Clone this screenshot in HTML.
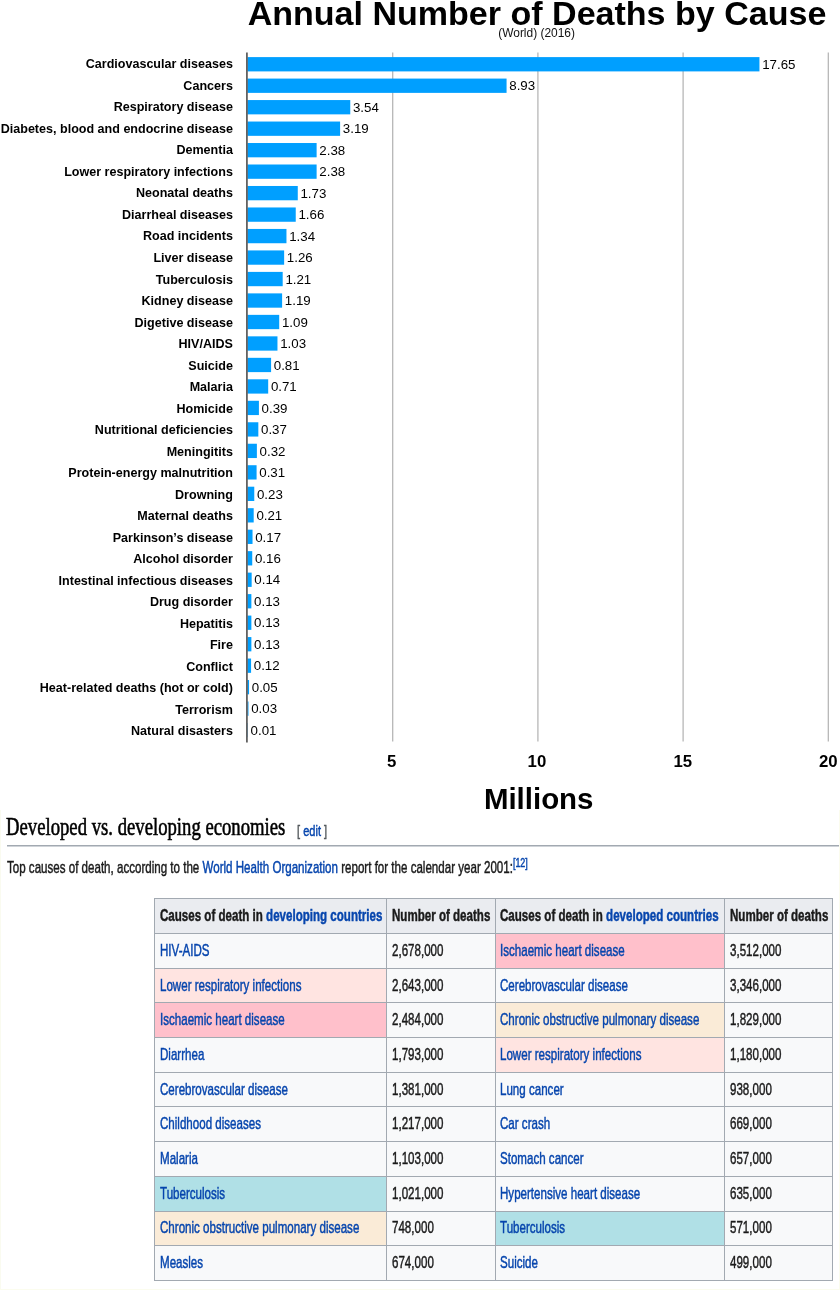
<!DOCTYPE html>
<html lang="en"><head><meta charset="utf-8"><title>Annual Number of Deaths by Cause</title>
<style>
html,body{margin:0;padding:0;background:#fff;}
body{width:840px;height:1290px;position:relative;overflow:hidden;font-family:"Liberation Sans",sans-serif;color:#000;}
.abs{position:absolute;white-space:nowrap;}
.title{left:237px;width:600px;text-align:center;top:-7px;font-size:34.04px;font-weight:bold;line-height:40px;letter-spacing:0;}
.sub{left:436.6px;width:200px;text-align:center;top:24.6px;font-size:11.95px;line-height:16px;color:#111;}
.lab{left:0;width:232.9px;text-align:right;font-size:12.56px;font-weight:bold;line-height:20px;height:20px;}
.val{font-size:13.3px;line-height:20px;height:20px;}
.chart{position:absolute;left:0;top:0;}
.tick{width:60px;text-align:center;font-size:16.8px;font-weight:bold;line-height:20px;top:751.9px;}
.mil{left:438.7px;width:200px;text-align:center;font-size:29.45px;font-weight:bold;line-height:36px;top:780.8px;}
.sq{display:inline-block;-webkit-text-stroke:0.45px currentColor;transform:scaleX(0.728);transform-origin:0 50%;white-space:nowrap;}
.h2{left:5.9px;top:811px;font-family:"Liberation Serif",serif;font-size:25.7px;line-height:32px;color:#000;}
.h2 .sq{-webkit-text-stroke:0.6px #000;}
.edit{left:296.6px;top:818.8px;font-size:15.2px;line-height:24px;color:#54595d;}
a{color:#0645ad;text-decoration:none;}
.rule{position:absolute;left:7px;right:0;top:845px;height:1px;background:#a2a9b1;box-shadow:0 1px 0 #cfd3d8;}
.p{left:7px;top:856.4px;font-size:15.9px;line-height:24px;color:#1a1a1a;}
.p sup{font-size:12.3px;line-height:1;vertical-align:baseline;position:relative;top:-6px;}
table{position:absolute;left:154px;top:898px;border-collapse:collapse;table-layout:fixed;width:678.9px;font-size:15.9px;color:#1a1a1a;background:#f8f9fa;}
td,th{border:1px solid #a2a9b1;padding:0 0 0 4.5px;height:33.7px;text-align:left;vertical-align:middle;overflow:visible;white-space:nowrap;line-height:20px;box-sizing:border-box;}
th{background:#eaecf0;height:35px;font-weight:bold;}
tr{height:34.7px;}
tr.h{height:35px;}
.pk{background:#ffc0cb;} .mr{background:#ffe4e1;} .aw{background:#faebd7;} .pb{background:#b0e0e6;}
.edgeR{position:absolute;right:0;top:810px;width:1px;bottom:0;background:#fbfcee;}
.edgeL{position:absolute;left:0;top:810px;width:1px;bottom:0;background:#fafbf0;}
.edgeB{position:absolute;left:0;right:0;bottom:0;height:1px;background:#fbfcee;}
</style></head>
<body>
<div class="abs title">Annual Number of Deaths by Cause</div>
<div class="abs sub">(World) (2016)</div>
<svg class="chart" width="840" height="800" viewBox="0 0 840 800">
<rect x="392.08" y="52.5" width="1.25" height="689" fill="#b4b4b4"/>
<rect x="537.28" y="52.5" width="1.25" height="689" fill="#b4b4b4"/>
<rect x="682.48" y="52.5" width="1.25" height="689" fill="#b4b4b4"/>
<rect x="827.68" y="52.5" width="1.25" height="689" fill="#b4b4b4"/>
<rect x="247.60" y="57.10" width="511.85" height="14.30" fill="#009fff"/>
<rect x="247.60" y="78.58" width="258.97" height="14.30" fill="#009fff"/>
<rect x="247.60" y="100.06" width="102.66" height="14.30" fill="#009fff"/>
<rect x="247.60" y="121.54" width="92.51" height="14.30" fill="#009fff"/>
<rect x="247.60" y="143.02" width="69.02" height="14.30" fill="#009fff"/>
<rect x="247.60" y="164.50" width="69.02" height="14.30" fill="#009fff"/>
<rect x="247.60" y="185.98" width="50.17" height="14.30" fill="#009fff"/>
<rect x="247.60" y="207.46" width="48.14" height="14.30" fill="#009fff"/>
<rect x="247.60" y="228.94" width="38.86" height="14.30" fill="#009fff"/>
<rect x="247.60" y="250.42" width="36.54" height="14.30" fill="#009fff"/>
<rect x="247.60" y="271.90" width="35.09" height="14.30" fill="#009fff"/>
<rect x="247.60" y="293.38" width="34.51" height="14.30" fill="#009fff"/>
<rect x="247.60" y="314.86" width="31.61" height="14.30" fill="#009fff"/>
<rect x="247.60" y="336.34" width="29.87" height="14.30" fill="#009fff"/>
<rect x="247.60" y="357.82" width="23.49" height="14.30" fill="#009fff"/>
<rect x="247.60" y="379.30" width="20.59" height="14.30" fill="#009fff"/>
<rect x="247.60" y="400.78" width="11.31" height="14.30" fill="#009fff"/>
<rect x="247.60" y="422.26" width="10.73" height="14.30" fill="#009fff"/>
<rect x="247.60" y="443.74" width="9.28" height="14.30" fill="#009fff"/>
<rect x="247.60" y="465.22" width="8.99" height="14.30" fill="#009fff"/>
<rect x="247.60" y="486.70" width="6.67" height="14.30" fill="#009fff"/>
<rect x="247.60" y="508.18" width="6.09" height="14.30" fill="#009fff"/>
<rect x="247.60" y="529.66" width="4.93" height="14.30" fill="#009fff"/>
<rect x="247.60" y="551.14" width="4.64" height="14.30" fill="#009fff"/>
<rect x="247.60" y="572.62" width="4.06" height="14.30" fill="#009fff"/>
<rect x="247.60" y="594.10" width="3.77" height="14.30" fill="#009fff"/>
<rect x="247.60" y="615.58" width="3.77" height="14.30" fill="#009fff"/>
<rect x="247.60" y="637.06" width="3.77" height="14.30" fill="#009fff"/>
<rect x="247.60" y="658.54" width="3.48" height="14.30" fill="#009fff"/>
<rect x="247.60" y="680.02" width="1.45" height="14.30" fill="#009fff"/>
<rect x="247.60" y="701.50" width="0.87" height="14.30" fill="#009fff"/>
<rect x="247.60" y="722.98" width="0.29" height="14.30" fill="#009fff"/>
<rect x="246.2" y="52.5" width="1.45" height="690" fill="#3c3c3c"/>
</svg>
<div class="abs lab" style="top:54px">Cardiovascular diseases</div><div class="abs val" style="top:54.95px;left:762.15px">17.65</div>
<div class="abs lab" style="top:76px">Cancers</div><div class="abs val" style="top:76.43px;left:509.27px">8.93</div>
<div class="abs lab" style="top:97px">Respiratory disease</div><div class="abs val" style="top:97.91px;left:352.96px">3.54</div>
<div class="abs lab" style="top:119px">Diabetes, blood and endocrine disease</div><div class="abs val" style="top:119.39px;left:342.81px">3.19</div>
<div class="abs lab" style="top:140px">Dementia</div><div class="abs val" style="top:140.87px;left:319.32px">2.38</div>
<div class="abs lab" style="top:162px">Lower respiratory infections</div><div class="abs val" style="top:162.35px;left:319.32px">2.38</div>
<div class="abs lab" style="top:183px">Neonatal deaths</div><div class="abs val" style="top:183.83px;left:300.47px">1.73</div>
<div class="abs lab" style="top:205px">Diarrheal diseases</div><div class="abs val" style="top:205.31px;left:298.44px">1.66</div>
<div class="abs lab" style="top:226px">Road incidents</div><div class="abs val" style="top:226.79px;left:289.16px">1.34</div>
<div class="abs lab" style="top:248px">Liver disease</div><div class="abs val" style="top:248.27px;left:286.84px">1.26</div>
<div class="abs lab" style="top:270px">Tuberculosis</div><div class="abs val" style="top:269.75px;left:285.39px">1.21</div>
<div class="abs lab" style="top:291px">Kidney disease</div><div class="abs val" style="top:291.23px;left:284.81px">1.19</div>
<div class="abs lab" style="top:313px">Digetive disease</div><div class="abs val" style="top:312.71px;left:281.91px">1.09</div>
<div class="abs lab" style="top:334px">HIV/AIDS</div><div class="abs val" style="top:334.19px;left:280.17px">1.03</div>
<div class="abs lab" style="top:356px">Suicide</div><div class="abs val" style="top:355.67px;left:273.79px">0.81</div>
<div class="abs lab" style="top:377px">Malaria</div><div class="abs val" style="top:377.15px;left:270.89px">0.71</div>
<div class="abs lab" style="top:399px">Homicide</div><div class="abs val" style="top:398.63px;left:261.61px">0.39</div>
<div class="abs lab" style="top:420px">Nutritional deficiencies</div><div class="abs val" style="top:420.11px;left:261.03px">0.37</div>
<div class="abs lab" style="top:442px">Meningitits</div><div class="abs val" style="top:441.59px;left:259.58px">0.32</div>
<div class="abs lab" style="top:463px">Protein-energy malnutrition</div><div class="abs val" style="top:463.07px;left:259.29px">0.31</div>
<div class="abs lab" style="top:485px">Drowning</div><div class="abs val" style="top:484.55px;left:256.97px">0.23</div>
<div class="abs lab" style="top:506px">Maternal deaths</div><div class="abs val" style="top:506.03px;left:256.39px">0.21</div>
<div class="abs lab" style="top:528px">Parkinson’s disease</div><div class="abs val" style="top:527.51px;left:255.23px">0.17</div>
<div class="abs lab" style="top:549px">Alcohol disorder</div><div class="abs val" style="top:548.99px;left:254.94px">0.16</div>
<div class="abs lab" style="top:571px">Intestinal infectious diseases</div><div class="abs val" style="top:570.47px;left:254.36px">0.14</div>
<div class="abs lab" style="top:592px">Drug disorder</div><div class="abs val" style="top:591.95px;left:254.07px">0.13</div>
<div class="abs lab" style="top:614px">Hepatitis</div><div class="abs val" style="top:613.43px;left:254.07px">0.13</div>
<div class="abs lab" style="top:635px">Fire</div><div class="abs val" style="top:634.91px;left:254.07px">0.13</div>
<div class="abs lab" style="top:657px">Conflict</div><div class="abs val" style="top:656.39px;left:253.78px">0.12</div>
<div class="abs lab" style="top:678px">Heat-related deaths (hot or cold)</div><div class="abs val" style="top:677.87px;left:251.75px">0.05</div>
<div class="abs lab" style="top:700px">Terrorism</div><div class="abs val" style="top:699.35px;left:251.17px">0.03</div>
<div class="abs lab" style="top:721px">Natural disasters</div><div class="abs val" style="top:720.83px;left:250.59px">0.01</div>
<div class="abs tick" style="left:361.65px">5</div><div class="abs tick" style="left:506.90px">10</div><div class="abs tick" style="left:652.85px">15</div><div class="abs tick" style="left:798.30px">20</div>
<div class="abs mil">Millions</div>
<div class="abs h2"><span class="sq">Developed vs. developing economies</span></div>
<div class="abs edit"><span class="sq">[ <a>edit</a> ]</span></div>
<div class="rule"></div>
<div class="abs p"><span class="sq">Top causes of death, according to the <a>World Health Organization</a> report for the calendar year 2001:<sup><a>[12]</a></sup></span></div>
<table><colgroup><col style="width:232.1px"><col style="width:108.8px"><col style="width:229.2px"><col style="width:107.8px"></colgroup>
<tr class="h"><th><span class="sq">Causes of death in <a>developing countries</a></span></th><th><span class="sq">Number of deaths</span></th><th><span class="sq">Causes of death in <a>developed countries</a></span></th><th><span class="sq">Number of deaths</span></th></tr>
<tr><td><span class="sq"><a>HIV-AIDS</a></span></td><td><span class="sq">2,678,000</span></td><td class="pk"><span class="sq"><a>Ischaemic heart disease</a></span></td><td><span class="sq">3,512,000</span></td></tr>
<tr><td class="mr"><span class="sq"><a>Lower respiratory infections</a></span></td><td><span class="sq">2,643,000</span></td><td><span class="sq"><a>Cerebrovascular disease</a></span></td><td><span class="sq">3,346,000</span></td></tr>
<tr><td class="pk"><span class="sq"><a>Ischaemic heart disease</a></span></td><td><span class="sq">2,484,000</span></td><td class="aw"><span class="sq"><a>Chronic obstructive pulmonary disease</a></span></td><td><span class="sq">1,829,000</span></td></tr>
<tr><td><span class="sq"><a>Diarrhea</a></span></td><td><span class="sq">1,793,000</span></td><td class="mr"><span class="sq"><a>Lower respiratory infections</a></span></td><td><span class="sq">1,180,000</span></td></tr>
<tr><td><span class="sq"><a>Cerebrovascular disease</a></span></td><td><span class="sq">1,381,000</span></td><td><span class="sq"><a>Lung cancer</a></span></td><td><span class="sq">938,000</span></td></tr>
<tr><td><span class="sq"><a>Childhood diseases</a></span></td><td><span class="sq">1,217,000</span></td><td><span class="sq"><a>Car crash</a></span></td><td><span class="sq">669,000</span></td></tr>
<tr><td><span class="sq"><a>Malaria</a></span></td><td><span class="sq">1,103,000</span></td><td><span class="sq"><a>Stomach cancer</a></span></td><td><span class="sq">657,000</span></td></tr>
<tr><td class="pb"><span class="sq"><a>Tuberculosis</a></span></td><td><span class="sq">1,021,000</span></td><td><span class="sq"><a>Hypertensive heart disease</a></span></td><td><span class="sq">635,000</span></td></tr>
<tr><td class="aw"><span class="sq"><a>Chronic obstructive pulmonary disease</a></span></td><td><span class="sq">748,000</span></td><td class="pb"><span class="sq"><a>Tuberculosis</a></span></td><td><span class="sq">571,000</span></td></tr>
<tr><td><span class="sq"><a>Measles</a></span></td><td><span class="sq">674,000</span></td><td><span class="sq"><a>Suicide</a></span></td><td><span class="sq">499,000</span></td></tr>
</table>
<div class="edgeL"></div><div class="edgeR"></div><div class="edgeB"></div>
</body></html>
